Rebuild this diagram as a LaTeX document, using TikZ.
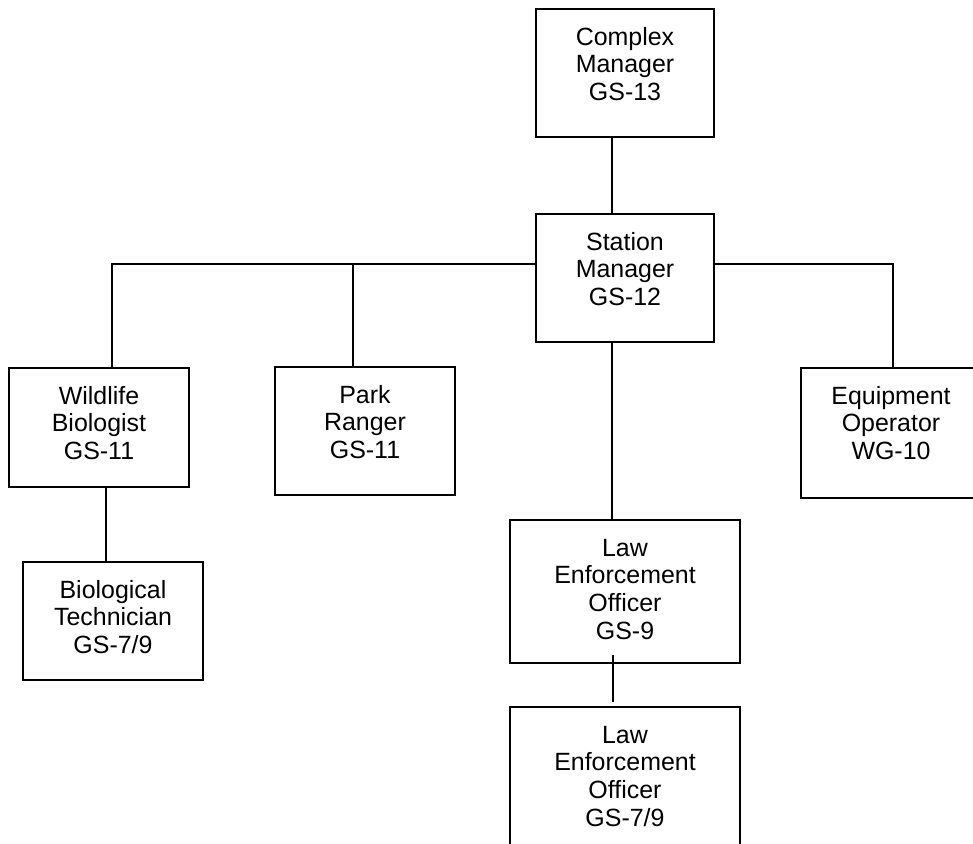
\documentclass[tikz,border=0pt]{standalone}
\usepackage{fontspec}
\setmainfont{Liberation Sans}
\usepackage{tikz}

\newcommand{\jobtext}[3]{\parbox[c][#2][t]{#1}{\centering\rule{0pt}{0.73cm}#3}}

\tikzset{
  post/.style={draw, line width=1pt, inner sep=0pt, anchor=north,
    font=\fontsize{14.2}{15.7}\selectfont},
  link/.style={line width=1pt}
}

\begin{document}
\begin{tikzpicture}[x=0.02cm, y=-0.02cm]
\useasboundingbox (0,0) rectangle (973,844);
\clip (0,0) rectangle (973,844);
\node[post] (cm) at (625,8) {\jobtext{3.56cm}{2.56cm}{Complex\\Manager\\GS-13}};
\node[post] (sm) at (625,213) {\jobtext{3.56cm}{2.56cm}{Station\\Manager\\GS-12}};
\node[post] (wb) at (99,367) {\jobtext{3.6cm}{2.38cm}{Wildlife\\Biologist\\GS-11}};
\node[post] (pr) at (365,366) {\jobtext{3.6cm}{2.56cm}{Park\\Ranger\\GS-11}};
\node[post] (eo) at (891,367) {\jobtext{3.6cm}{2.6cm}{Equipment\\Operator\\WG-10}};
\node[post] (bt) at (113,561) {\jobtext{3.6cm}{2.36cm}{Biological\\Technician\\GS-7/9}};
\node[post] (le1) at (625,519) {\jobtext{4.6cm}{2.86cm}{Law\\Enforcement\\Officer\\GS-9}};
\node[post] (le2) at (625,706) {\jobtext{4.6cm}{2.9cm}{Law\\Enforcement\\Officer\\GS-7/9}};
\coordinate (busW) at (112,264);
\coordinate (busP) at (353,264);
\coordinate (busE) at (893,264);
\draw[link] ([xshift=-0.26cm]cm.south) -- ([xshift=-0.26cm]sm.north);
\draw[link] (sm.west |- busW) -- (busW) -- (busW |- wb.north);
\draw[link] (busP) -- (busP |- pr.north);
\draw[link] (sm.east |- busE) -- (busE) -- (busE |- eo.north);
\draw[link] ([xshift=-0.26cm]sm.south) -- ([xshift=-0.26cm]le1.north);
\draw[link] ([xshift=0.14cm]wb.south) -- ([xshift=0.14cm]wb.south |- bt.north);
\draw[link] ([xshift=-0.24cm,yshift=0.18cm]le1.south) -- ([xshift=-0.24cm,yshift=0.08cm]le2.north);
\end{tikzpicture}
\end{document}
